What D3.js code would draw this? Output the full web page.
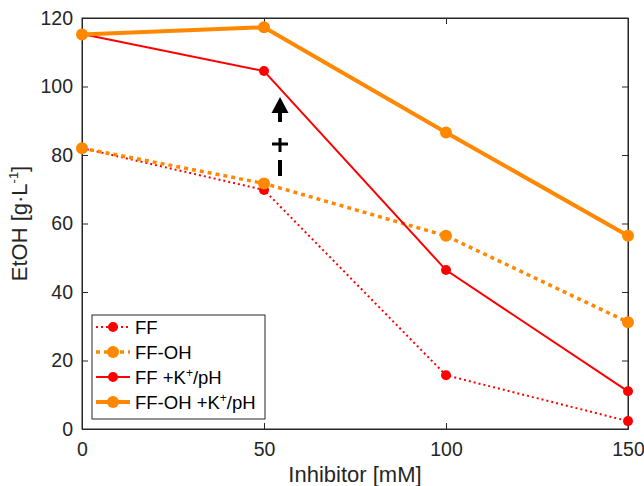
<!DOCTYPE html>
<html>
<head>
<meta charset="utf-8">
<script src="https://cdn.jsdelivr.net/npm/d3@7"></script>
<style>
  body { margin: 0; background: #fff; }
  svg { font-family: "Liberation Sans", Arial, sans-serif; }
</style>
</head>
<body>
<div id="chart"></div>
<script>
const inhibitor = [0, 50, 100, 150];
const ff = [82.0, 69.8, 15.7, 2.3];
const ffOH = [82.0, 71.7, 56.4, 31.2];
const ffK = [115.3, 104.5, 46.4, 11.0];
const ffOHK = [115.2, 117.3, 86.6, 56.4];
const xTicks = [0, 50, 100, 150];
const yTicks = [0, 20, 40, 60, 80, 100, 120];

const series = [
    {name: "FF", values: ff, color: "#ff0000", width: 2, dash: "2,3", r: 5},
    {name: "FF-OH", values: ffOH, color: "#ff8800", width: 3.5, dash: "4,4", r: 6},
    {name: "FF +K", sup: "+", tail: "/pH", values: ffK, color: "#ff0000", width: 2, dash: null, r: 5},
    {name: "FF-OH +K", sup: "+", tail: "/pH", values: ffOHK, color: "#ff8800", width: 4, dash: null, r: 6}
];

let margin = {top: 18, right: 16, bottom: 57, left: 82},
    width = 644 - margin.left - margin.right,
    height = 486 - margin.top - margin.bottom;

let x = d3.scaleLinear().domain([0, 150]).range([0, width]);
let y = d3.scaleLinear().domain([0, 120]).range([height, 0]);

let svg = d3.select("#chart")
    .append("svg")
        .attr("width", 644)
        .attr("height", 486)
    .append("g")
        .attr("transform", "translate(" + margin.left + "," + margin.top + ")");

const axisColor = "#262626";

// box
svg.append("rect")
    .attr("width", width).attr("height", height)
    .attr("fill", "none").attr("stroke", axisColor).attr("stroke-width", 1);

let xAxis = svg.append("g")
    .attr("transform", "translate(0," + height + ")")
    .call(d3.axisBottom(x).tickValues(xTicks).tickSizeInner(-6).tickSizeOuter(0).tickPadding(13));
let xTop = svg.append("g")
    .call(d3.axisTop(x).tickValues(xTicks).tickSizeInner(-6).tickSizeOuter(0).tickFormat(""));
let yAxis = svg.append("g")
    .call(d3.axisLeft(y).tickValues(yTicks).tickSizeInner(-6).tickSizeOuter(0).tickPadding(9));
let yRight = svg.append("g")
    .attr("transform", "translate(" + width + ",0)")
    .call(d3.axisRight(y).tickValues(yTicks).tickSizeInner(-6).tickSizeOuter(0).tickFormat(""));

[xAxis, xTop, yAxis, yRight].forEach(g => {
    g.attr("font-family", null).attr("font-size", null);
    g.select(".domain").attr("stroke", axisColor);
    g.selectAll(".tick line").attr("stroke", axisColor);
    g.selectAll(".tick text").attr("fill", axisColor).style("font-size", "19.5px");
});

// axis titles
svg.append("text")
    .attr("x", width / 2).attr("y", height + 53)
    .attr("text-anchor", "middle").attr("fill", axisColor)
    .style("font-size", "22px")
    .text("Inhibitor [mM]");

let yt = svg.append("text")
    .attr("transform", "translate(-55," + (height / 2) + ") rotate(-90)")
    .attr("text-anchor", "middle").attr("fill", axisColor)
    .style("font-size", "22px");
yt.append("tspan").text("EtOH [g\u00B7L");
yt.append("tspan").attr("dy", -9).style("font-size", "13px").text("-1");
yt.append("tspan").attr("dy", 9).text("]");

// lines
let line = d3.line().x((d, i) => x(inhibitor[i])).y(d => y(d));

series.forEach(s => {
    svg.append("path")
        .datum(s.values)
        .attr("d", line)
        .attr("fill", "none")
        .attr("stroke", s.color)
        .attr("stroke-width", s.width)
        .attr("stroke-dasharray", s.dash);
});
series.forEach(s => {
    svg.selectAll(null)
        .data(s.values)
        .enter().append("circle")
        .attr("cx", (d, i) => x(inhibitor[i]))
        .attr("cy", d => y(d))
        .attr("r", s.r)
        .attr("fill", s.color);
});

// annotation arrow at 50 mM
let ax = x(50) + 16;
let ay = y(80);
let arrow = svg.append("g").attr("stroke", "#000").attr("stroke-width", 4);
arrow.append("line").attr("x1", ax).attr("x2", ax).attr("y1", ay + 21).attr("y2", ay + 5);
arrow.append("line").attr("x1", ax).attr("x2", ax).attr("y1", ay - 3).attr("y2", ay - 17).attr("stroke-width", 3);
arrow.append("line").attr("x1", ax - 8).attr("x2", ax + 8).attr("y1", ay - 11).attr("y2", ay - 11).attr("stroke-width", 3);
arrow.append("line").attr("x1", ax).attr("x2", ax).attr("y1", ay - 33).attr("y2", ay - 43);
svg.append("path")
    .attr("d", d3.line()([[ax, ay - 58], [ax - 8.5, ay - 42], [ax + 8.5, ay - 42]]) + "Z")
    .attr("fill", "#000");

// legend
let legend = svg.append("g").attr("transform", "translate(10," + (height - 114) + ")");
legend.append("rect")
    .attr("width", 173).attr("height", 104)
    .attr("fill", "#fff").attr("stroke", axisColor).attr("stroke-width", 1);

series.forEach((s, i) => {
    let g = legend.append("g").attr("transform", "translate(0," + (12 + i * 25) + ")");
    g.append("line")
        .attr("x1", 4).attr("x2", 38)
        .attr("stroke", s.color).attr("stroke-width", s.width)
        .attr("stroke-dasharray", s.dash);
    g.append("circle").attr("cx", 21).attr("r", s.r).attr("fill", s.color);
    let t = g.append("text")
        .attr("x", 43).attr("y", 7)
        .attr("fill", "#000")
        .style("font-size", "18.5px");
    t.append("tspan").text(s.name);
    if (s.sup) {
        t.append("tspan").attr("dy", -7).style("font-size", "12px").text(s.sup);
        t.append("tspan").attr("dy", 7).text(s.tail);
    }
});
</script>
</body>
</html>
